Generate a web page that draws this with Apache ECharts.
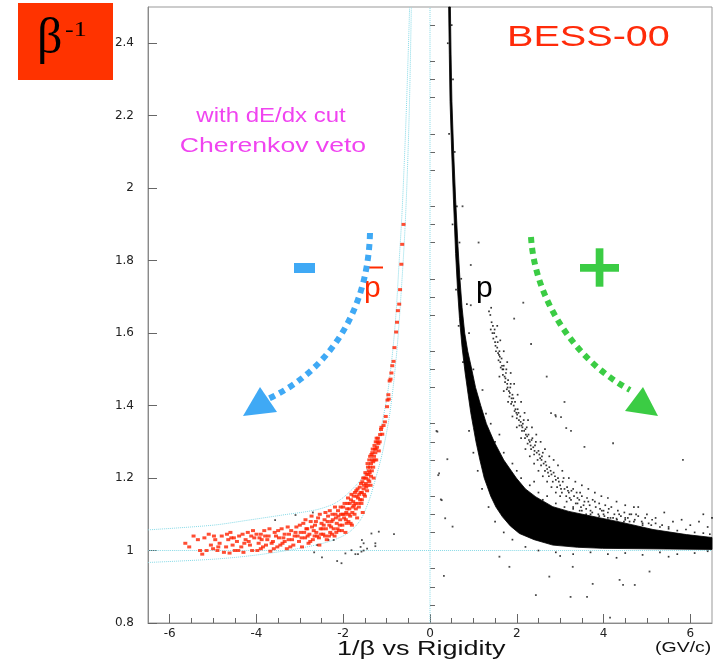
<!DOCTYPE html>
<html>
<head>
<meta charset="utf-8">
<script src="https://cdn.jsdelivr.net/npm/echarts@6/dist/echarts.min.js"></script>
<style>html,body{margin:0;padding:0;background:#fff}#c{width:720px;height:663px}</style>
</head>
<body>
<div id="c"></div>
<script>
// ---- tick labels ----
const xTicks = [-6, -4, -2, 0, 2, 4, 6];
const xMinorTicks = [-5.5, -5, -4.5, -3.5, -3, -2.5, -1.5, -1, -0.5, 0.5, 1, 1.5, 2.5, 3, 3.5, 4.5, 5, 5.5];
const yTicks = [0.8, 1, 1.2, 1.4, 1.6, 1.8, 2, 2.2, 2.4];
const yMinorTicks = [0.85, 0.9, 0.95, 1.05, 1.1, 1.15, 1.25, 1.3, 1.35, 1.45, 1.5, 1.55, 1.65, 1.7, 1.75,
  1.85, 1.9, 1.95, 2.05, 2.1, 2.15, 2.25, 2.3, 2.35, 2.45];

// ---- dense proton band (outer = upper/right edge, inner = lower/left edge) ----
const protonBandOuter = [[0.47,2.5],[0.485,2.37],[0.505,2.24],[0.545,2.1],[0.59,1.97],[0.645,1.84],[0.69,1.75],
  [0.74,1.67],[0.8,1.6],[0.87,1.55],[0.95,1.507],[1.05,1.45],[1.17,1.4],[1.3,1.35],[1.48,1.3],[1.7,1.25],[1.99,1.2],
  [2.2,1.17],[2.44,1.148],[2.83,1.121],[3.2,1.108],[3.6,1.098],[4.37,1.079],[5.14,1.058],[5.91,1.044],[6.5,1.036]];
const protonBandInner = [[0.43,2.5],[0.445,2.37],[0.462,2.24],[0.5,2.1],[0.54,1.97],[0.59,1.82],[0.635,1.72],
  [0.68,1.64],[0.74,1.56],[0.81,1.49],[0.88,1.43],[0.94,1.38],[1.0,1.34],[1.06,1.3],[1.15,1.25],[1.25,1.2],[1.4,1.15],
  [1.52,1.12],[1.67,1.093],[1.85,1.068],[2.06,1.047],[2.4,1.03],[2.83,1.015],[3.4,1.009],[3.98,1.006],[6.5,1.003]];

// ---- scattered black points around the proton band ----
const protonFuzz = [[2.6,1.14],[2.9,1.13],[3.1,1.12],[3.3,1.115],[3.5,1.11],[3.7,1.1],[3.9,1.095],[4.1,1.09],[4.3,1.088],
  [4.5,1.085],[4.7,1.08],[4.9,1.075],[5.1,1.07],[5.3,1.065],[5.5,1.06],[5.7,1.055],[5.9,1.058],[6.1,1.05],[6.3,1.048],
  [6.45,1.045],[4.0,1.11],[4.6,1.1],[5.2,1.09],[5.6,1.08],[6.0,1.07],[6.4,1.065],[3.4,1.13],[5.0,1.1],[5.8,1.085],
  [6.2,1.08],[4.8,1.12],[5.4,1.105],[6.3,1.1],[6.5,1.09],[2.5,1.0],[2.9,0.995],[3.3,0.99],[3.7,0.995],[4.1,0.99],
  [4.5,0.993],[4.9,0.988],[5.3,0.995],[5.7,0.99],[6.1,0.993],[6.4,0.998],[3.0,0.985],[4.3,0.98],[5.5,0.983],[2.2,1.01],
  [1.9,1.03],[1.7,1.05],[1.5,1.08],[1.35,1.12],[1.2,1.17],[1.1,1.22],[1.0,1.27],[0.9,1.33],[1.3,1.33],[1.5,1.3],
  [1.7,1.27],[1.9,1.24],[2.1,1.2],[2.3,1.18],[2.5,1.16],[1.1,1.42],[1.0,1.5],[0.9,1.6],[0.85,1.68],[1.6,1.32],
  [2.0,1.22],[2.4,1.19],[2.7,1.15],[1.4,1.35],[0.72,1.75],[0.68,1.85],[0.62,1.95],[0.57,2.1],[0.53,2.3],[0.5,2.45],
  [0.41,2.4],[0.44,2.15],[0.52,1.9],[0.6,1.72],[0.66,1.62],[0.76,1.52]];

// ---- secondary (deuteron) band ----
const deuteronPts = [[1.36,1.66],[1.39,1.65],[1.42,1.63],[1.4,1.61],[1.45,1.62],[1.48,1.6],[1.46,1.585],[1.5,1.575],
  [1.53,1.59],[1.55,1.56],[1.52,1.55],[1.57,1.545],[1.6,1.55],[1.58,1.525],[1.62,1.52],[1.65,1.53],[1.63,1.505],
  [1.67,1.5],[1.7,1.51],[1.68,1.485],[1.72,1.48],[1.75,1.49],[1.73,1.465],[1.78,1.46],[1.8,1.47],[1.77,1.445],
  [1.82,1.44],[1.85,1.45],[1.83,1.425],[1.88,1.42],[1.9,1.43],[1.87,1.405],[1.93,1.4],[1.96,1.41],[1.95,1.385],
  [1.99,1.38],[2.02,1.39],[2.0,1.365],[2.05,1.36],[2.08,1.37],[2.06,1.345],[2.11,1.345],[2.14,1.35],[2.12,1.33],
  [2.17,1.33],[2.2,1.335],[2.19,1.31],[2.24,1.315],[2.27,1.32],[2.25,1.295],[2.3,1.3],[2.34,1.305],[2.33,1.28],
  [2.38,1.285],[2.42,1.29],[2.4,1.265],[2.46,1.27],[2.5,1.275],[2.48,1.25],[2.54,1.255],[2.58,1.26],[2.56,1.235],
  [2.62,1.24],[2.66,1.245],[2.65,1.22],[2.7,1.225],[2.75,1.23],[2.74,1.205],[2.8,1.21],[2.85,1.215],[2.83,1.19],
  [2.9,1.195],[2.95,1.2],[2.93,1.175],[3.0,1.18],[3.06,1.19],[3.04,1.16],[3.1,1.17],[3.16,1.175],[3.14,1.15],
  [3.2,1.16],[3.26,1.165],[3.25,1.14],[3.32,1.15],[3.38,1.16],[3.36,1.13],[3.44,1.14],[3.5,1.15],[3.48,1.12],
  [3.56,1.135],[3.62,1.145],[3.6,1.115],[3.68,1.125],[3.75,1.14],[3.74,1.105],[3.82,1.12],[3.9,1.13],[3.88,1.1],
  [3.96,1.11],[4.04,1.125],[4.02,1.095],[4.1,1.105],[4.18,1.12],[4.16,1.09],[4.25,1.1],[4.33,1.11],[4.31,1.085],
  [4.4,1.095],[4.48,1.105],[4.47,1.08],[4.56,1.09],[4.64,1.1],[4.72,1.085],[4.8,1.095],[4.88,1.08],[4.96,1.09],
  [5.04,1.075],[5.12,1.085],[1.41,1.67],[1.44,1.6],[1.49,1.61],[1.51,1.565],[1.56,1.575],[1.59,1.54],[1.61,1.535],
  [1.66,1.51],[1.69,1.5],[1.74,1.475],[1.76,1.5],[1.79,1.45],[1.84,1.435],[1.86,1.46],[1.89,1.41],[1.92,1.42],
  [1.97,1.39],[2.01,1.375],[2.04,1.38],[2.09,1.355],[2.13,1.34],[2.16,1.36],[2.21,1.32],[2.23,1.34],[2.28,1.305],
  [2.32,1.29],[2.36,1.31],[2.41,1.275],[2.44,1.3],[2.52,1.265],[2.57,1.25],[2.6,1.27],[2.68,1.235],[2.72,1.215],
  [2.78,1.22],[2.88,1.205],[2.97,1.19],[3.02,1.17],[3.08,1.2],[3.18,1.165],[3.22,1.145],[3.3,1.17],[3.4,1.145],
  [3.46,1.16],[3.54,1.125],[3.65,1.135],[3.7,1.11],[3.8,1.135],[3.92,1.115],[4.0,1.1],[4.12,1.115],[4.22,1.09],
  [4.36,1.1],[4.5,1.09],[4.6,1.08],[4.75,1.1],[4.9,1.07],[5.2,1.075],[5.35,1.07],[5.5,1.065],
  [1.55,1.62],[1.62,1.58],[1.7,1.55],[1.78,1.52],[1.86,1.49],[1.94,1.46],[2.02,1.43],[2.1,1.41],[2.18,1.38],
  [2.26,1.36],[2.35,1.34],[2.45,1.32],[2.55,1.3],[2.65,1.28],[2.75,1.26],[2.85,1.25],[2.95,1.235],[3.05,1.22],
  [3.2,1.2],[3.35,1.19],[3.5,1.18],[3.65,1.17],[3.8,1.16],[3.95,1.15],[4.1,1.145],[4.3,1.135],[4.5,1.125],[4.7,1.12],
  [1.6,1.48],[1.7,1.44],[1.8,1.41],[1.9,1.37],[2.0,1.34],[2.1,1.31],[2.2,1.28],[2.3,1.26],[2.4,1.24],[2.5,1.22],
  [2.6,1.205],[2.7,1.19],[2.8,1.175],[2.9,1.16],[3.0,1.15],[3.15,1.135],[3.3,1.12],[3.45,1.11],[3.6,1.1],[3.75,1.09],
  [3.9,1.085],[4.05,1.08]];

// ---- isolated black events ----
const blackOutliers = [[0.94,1.788],[0.94,1.677],[2.15,1.684],[1.94,1.64],[2.33,1.57],[2.69,1.48],[3.1,1.41],
  [1.21,1.443],[2.89,1.374],[1.29,1.378],[2.79,1.379],[2.9,1.37],[3.02,1.368],[3.14,1.338],[3.25,1.33],[3.56,1.286],
  [4.22,1.296],[5.83,1.25],[0.17,1.328],[0.21,1.213],[0.27,1.139],[0.35,1.089],[0.52,1.066],[0.32,0.93],[2.44,0.877],
  [3.75,0.908],[4.37,0.919],[4.72,0.905],[5.06,0.942],[1.83,0.955],[1.6,0.983],[2.75,0.928],[3.29,0.955],[3.24,0.872],
  [3.62,0.872],[4.15,0.815],[4.45,0.905],[0.4,1.252],[0.19,1.208],[0.25,1.141],[0.15,1.33],[0.75,1.95],[1.12,1.85],
  [-3.57,1.084],[-3.1,1.098],[-2.7,1.105],[-2.67,0.995],[-2.6,1.015],[-2.49,0.981],[-2.34,1.029],[-2.22,1.029],
  [-2.14,0.971],[-2.04,0.965],[-1.95,0.992],[-1.81,1.001],[-1.72,0.99],[-1.66,0.99],[-1.6,1.01],[-1.58,0.997],
  [-1.57,1.029],[-1.53,1.02],[-1.35,1.047],[-1.26,1.02],[-1.26,1.012],[-1.18,1.052],[-0.83,1.045],[-1.53,1.0],
  [-1.45,1.005]];

// ---- antiproton candidates (red) ----
const antiprotonPts = [[-5.64,1.02],[-5.35,1.03],[-5.2,1.035],[-5.1,1.045],[-5.3,1.0],[-5.25,0.99],[-5.05,1.015],
  [-4.95,1.03],[-5.0,1.005],[-4.85,1.02],[-4.8,1.04],[-4.75,0.995],[-4.7,1.01],[-4.65,1.03],[-4.6,1.05],[-4.55,1.015],
  [-4.5,1.0],[-4.45,1.025],[-4.4,1.04],[-4.35,1.01],[-4.3,0.995],[-4.25,1.03],[-4.2,1.05],[-4.15,1.015],[-4.1,1.0],
  [-4.05,1.035],[-4.0,1.045],[-3.95,1.02],[-3.9,1.005],[-3.88,1.03],[-3.82,1.055],[-3.78,1.015],[-3.72,1.04],
  [-3.68,0.998],[-3.62,1.025],[-3.58,1.05],[-3.52,1.01],[-3.48,1.035],[-3.42,1.06],[-3.4,1.02],[-3.35,1.045],
  [-3.3,1.005],[-3.26,1.03],[-3.2,1.055],[-3.15,1.015],[-3.12,1.04],[-3.08,1.065],[-3.02,1.025],[-2.98,1.05],
  [-2.95,1.01],[-2.92,1.075],[-2.88,1.035],[-2.85,1.06],[-2.8,1.02],[-2.78,1.045],[-2.75,1.08],[-2.7,1.03],
  [-2.68,1.055],[-2.65,1.07],[-2.6,1.04],[-2.58,1.09],[-2.55,1.015],[-2.52,1.06],[-2.5,1.075],[-2.46,1.045],
  [-2.43,1.085],[-2.4,1.06],[-2.38,1.03],[-2.35,1.095],[-2.32,1.07],[-2.3,1.05],[-2.27,1.08],[-2.25,1.1],[-2.22,1.06],
  [-2.2,1.04],[-2.17,1.09],[-2.15,1.075],[-2.12,1.11],[-2.1,1.055],[-2.07,1.085],[-2.05,1.1],[-2.02,1.07],[-2.0,1.12],
  [-1.98,1.09],[-1.95,1.05],[-1.93,1.105],[-1.9,1.13],[-1.88,1.08],[-1.86,1.115],[-1.84,1.095],[-1.82,1.14],
  [-1.8,1.07],[-1.78,1.12],[-1.76,1.15],[-1.74,1.1],[-1.72,1.13],[-1.7,1.165],[-1.68,1.09],[-1.66,1.145],
  [-1.64,1.12],[-1.62,1.175],[-1.6,1.16],[-1.58,1.13],[-1.56,1.19],[-1.55,1.105],[-1.53,1.17],[-1.51,1.2],
  [-1.5,1.15],[-1.48,1.185],[-1.46,1.21],[-1.45,1.165],[-1.43,1.23],[-1.42,1.195],[-1.4,1.25],[-1.39,1.215],
  [-1.37,1.18],[-1.36,1.24],[-1.35,1.265],[-1.34,1.22],[-1.32,1.28],[-1.31,1.245],[-1.3,1.2],[-1.29,1.26],
  [-1.28,1.29],[-1.26,1.27],[-1.25,1.3],[-1.24,1.25],[-1.22,1.285],[-1.2,1.31],[-1.18,1.275],[-1.15,1.32],
  [-1.13,1.334],[-1.1,1.321],[-1.04,1.355],[-0.99,1.397],[-0.98,1.415],[-0.95,1.418],[-0.93,1.468],[-0.91,1.473],
  [-0.87,1.51],[-0.84,1.522],[-0.78,1.603],[-0.74,1.662],[-0.71,1.68],[-0.69,1.72],[-0.66,1.79],[-0.64,1.845],
  [-0.61,1.9],[-3.9,1.045],[-3.75,1.03],[-3.55,1.04],[-3.45,1.015],[-3.25,1.045],[-3.05,1.04],[-2.9,1.05],
  [-2.72,1.065],[-2.62,1.05],[-2.48,1.06],[-2.36,1.08],[-2.28,1.065],[-2.18,1.1],[-2.08,1.07],[-1.96,1.1],
  [-1.87,1.1],[-1.77,1.135],[-1.69,1.15],[-1.61,1.14],[-1.57,1.16],[-1.52,1.18],[-1.47,1.2],[-1.44,1.18],
  [-1.41,1.22],[-1.38,1.23],[-1.33,1.25],[-1.27,1.28],[-1.21,1.3],[-4.9,1.0],[-4.58,1.035],[-4.28,1.02],
  [-4.12,1.04],[-3.98,1.0],[-3.65,1.02],[-3.35,1.025],[-3.18,1.03],[-2.82,1.04],[-2.56,1.035],[-2.42,1.04],
  [-2.13,1.06],[-1.92,1.075],[-5.55,1.01],[-4.62,0.993],
  [-5.45,1.04],[-5.15,1.0],[-4.98,1.04],[-4.88,1.01],[-4.68,1.045],[-4.52,1.035],[-4.42,1.0],[-4.32,1.045],
  [-4.18,1.025],[-4.08,1.055],[-3.93,1.035],[-3.85,1.01],[-3.8,1.04],[-3.7,1.06],[-3.6,1.005],[-3.5,1.055],
  [-3.38,1.035],[-3.28,1.065],[-3.22,1.01],[-3.1,1.05],[-3.0,1.07],[-2.96,1.035],[-2.87,1.085],[-2.83,1.06],
  [-2.76,1.025],[-2.73,1.095],[-2.66,1.04],[-2.63,1.08],[-2.54,1.1],[-2.51,1.045],[-2.45,1.07],[-2.41,1.105],
  [-2.33,1.04],[-2.31,1.11],[-2.26,1.045],[-2.24,1.085],[-2.19,1.12],[-2.16,1.05],[-2.11,1.095],[-2.06,1.12],
  [-2.03,1.055],[-2.01,1.1],[-1.97,1.13],[-1.94,1.085],[-1.91,1.115],[-1.89,1.145],[-1.85,1.13],[-1.83,1.075],
  [-1.81,1.155],[-1.79,1.105],[-1.75,1.125],[-1.73,1.16],[-1.71,1.115],[-1.67,1.17],[-1.65,1.13],[-1.63,1.155],
  [-1.59,1.185],[-1.57,1.14],[-1.54,1.2],[-1.52,1.155],[-1.49,1.215],[-1.47,1.175],[-1.44,1.24],[-1.42,1.21],
  [-1.4,1.19],[-1.38,1.26],[-1.36,1.205],[-1.33,1.27],[-1.31,1.23],[-1.28,1.25],[-1.25,1.28],[-1.23,1.31],
  [-1.19,1.295],[-1.16,1.3],[-1.12,1.34],[-1.07,1.345],[-1.02,1.37],[-0.96,1.43],[-0.89,1.49],[-0.82,1.56],
  [-0.76,1.63]];

// ---- selection curves & reference lines (cyan) ----
const cutUpper = [[-6.5,1.057],[-5.0,1.07],[-4.18,1.084],[-3.4,1.098],[-2.64,1.112],[-2.2,1.13],[-1.87,1.16],
  [-1.57,1.2],[-1.35,1.25],[-1.2,1.3],[-1.09,1.36],[-0.97,1.44],[-0.86,1.55],[-0.78,1.66],[-0.71,1.8],[-0.65,1.92],
  [-0.6,2.05],[-0.55,2.2],[-0.5,2.38],[-0.47,2.5]];
const cutLower = [[-6.5,0.967],[-5.0,0.976],[-4.18,0.985],[-3.4,0.998],[-2.64,1.015],[-2.2,1.03],[-1.87,1.05],
  [-1.6,1.085],[-1.4,1.14],[-1.25,1.2],[-1.1,1.268],[-0.95,1.36],[-0.85,1.45],[-0.75,1.57],[-0.66,1.72],[-0.58,1.88],
  [-0.52,2.05],[-0.47,2.25],[-0.43,2.5]];
const refHorizontal = [[-6.5,1],[6.5,1]];
const refVertical = [[0,0.8],[0,2.5]];

const chart = echarts.init(document.getElementById('c'), null, {renderer: 'canvas'});
const cyan = '#86d9e6';
const tickFont = {fontFamily: 'DejaVu Sans', fontSize: 12, color: '#222'};
const axisGray = '#8a8a8a';

function cyanLine(data) {
  return {type: 'line', data: data, showSymbol: false, smooth: 0.3, silent: true, z: 1,
    lineStyle: {color: cyan, width: 1, type: 'dotted'}};
}

const option = {
  animation: false,
  grid: {left: 148, right: 8, top: 7, bottom: 40, show: true, borderColor: '#999', borderWidth: 1, backgroundColor: 'transparent'},
  xAxis: [
    {type: 'value', min: -6.5, max: 6.5, position: 'bottom',
      axisLine: {show: true, onZero: false, lineStyle: {color: axisGray}},
      axisTick: {show: true, inside: true, length: 9, customValues: xTicks, lineStyle: {color: '#666'}},
      axisLabel: Object.assign({customValues: xTicks, margin: 5}, tickFont),
      splitLine: {show: false}},
    {type: 'value', min: -6.5, max: 6.5, position: 'bottom',
      axisLine: {show: false},
      axisTick: {show: true, inside: true, length: 5, customValues: xMinorTicks, lineStyle: {color: '#666'}},
      axisLabel: {show: false}, splitLine: {show: false}}
  ],
  yAxis: [
    {type: 'value', min: 0.8, max: 2.5, position: 'left',
      axisLine: {show: true, onZero: false, lineStyle: {color: axisGray}},
      axisTick: {show: true, inside: true, length: 9, customValues: yTicks, lineStyle: {color: '#666'}},
      axisLabel: Object.assign({customValues: yTicks, margin: 14}, tickFont),
      splitLine: {show: false}},
    {type: 'value', min: 0.8, max: 2.5, position: 'left',
      axisLine: {show: false},
      axisTick: {show: true, inside: true, length: 5, customValues: yMinorTicks, lineStyle: {color: '#666'}},
      axisLabel: {show: false}, splitLine: {show: false}}
  ],
  series: [
    cyanLine(refHorizontal),
    cyanLine(refVertical),
    cyanLine(cutUpper),
    cyanLine(cutLower),
    {type: 'custom', z: 2, silent: true, data: [[0, 1]],
      renderItem: function (params, api) {
        const pts = protonBandOuter.concat(protonBandInner.slice().reverse()).map(function (p) { return api.coord(p); });
        return {type: 'polygon', shape: {points: pts}, style: {fill: '#000', stroke: '#000', lineWidth: 0.8}};
      }},
    {type: 'scatter', z: 3, silent: true, data: protonFuzz, symbol: 'rect', symbolSize: 1.7, itemStyle: {color: '#000'}},
    {type: 'scatter', z: 3, silent: true, data: deuteronPts, symbol: 'rect', symbolSize: 1.7, itemStyle: {color: '#000'}},
    {type: 'scatter', z: 3, silent: true, data: blackOutliers, symbol: 'rect', symbolSize: 1.8, itemStyle: {color: '#222'}},
    {type: 'scatter', z: 4, silent: true, data: antiprotonPts, symbol: 'rect', symbolSize: [4, 3], itemStyle: {color: '#ff2200'}}
  ],
  graphic: [
    {type: 'rect', shape: {x: 18, y: 3, width: 95, height: 77}, style: {fill: '#ff3300'}, z: 10},
    {type: 'text', x: 37, y: 40, z: 11, style: {text: 'β', font: '50px "Liberation Serif"', fill: '#000', verticalAlign: 'middle'}},
    {type: 'text', x: 65, y: 31, z: 11, scaleX: 1.3, style: {text: '-1', font: '20px "Liberation Serif"', fill: '#000', verticalAlign: 'middle'}},
    {type: 'text', x: 507, y: 38, z: 11, scaleX: 1.32, style: {text: 'BESS-00', font: '30px "Liberation Sans"', fill: '#ff2b0a', verticalAlign: 'middle'}},
    {type: 'text', x: 271, y: 116, z: 11, scaleX: 1.2, style: {text: 'with dE/dx cut', font: '20px "Liberation Sans"', fill: '#f044f0', align: 'center', verticalAlign: 'middle'}},
    {type: 'text', x: 273, y: 146, z: 11, scaleX: 1.33, style: {text: 'Cherenkov veto', font: '20px "Liberation Sans"', fill: '#f044f0', align: 'center', verticalAlign: 'middle'}},
    {type: 'rect', shape: {x: 294, y: 263, width: 21, height: 10}, style: {fill: '#3fa9f5'}, z: 11},
    {type: 'text', x: 364, y: 289, z: 11, style: {text: 'p', font: '30px "Liberation Sans"', fill: '#ff2a00', verticalAlign: 'middle'}},
    {type: 'rect', shape: {x: 368, y: 266.5, width: 15, height: 2}, style: {fill: '#ff2a00'}, z: 11},
    {type: 'text', x: 476, y: 289, z: 11, style: {text: 'p', font: '30px "Liberation Sans"', fill: '#000', verticalAlign: 'middle'}},
    {type: 'rect', shape: {x: 595.7, y: 248.3, width: 7.7, height: 38.4}, style: {fill: '#3bcc44'}, z: 11},
    {type: 'rect', shape: {x: 580, y: 264, width: 39, height: 7.7}, style: {fill: '#3bcc44'}, z: 11},
    {type: 'bezierCurve', z: 11, shape: {x1: 370, y1: 233, cpx1: 368, cpy1: 310, cpx2: 330, cpy2: 370, x2: 268, y2: 399},
      style: {stroke: '#3fa9f5', lineWidth: 6, lineDash: [6, 5], fill: null}},
    {type: 'polygon', z: 11, shape: {points: [[243, 416], [260, 387], [277, 412]]}, style: {fill: '#3fa9f5'}},
    {type: 'bezierCurve', z: 11, shape: {x1: 531, y1: 237, cpx1: 535, cpy1: 300, cpx2: 575, cpy2: 360, x2: 630, y2: 390},
      style: {stroke: '#3bcc44', lineWidth: 6, lineDash: [6, 5], fill: null}},
    {type: 'polygon', z: 11, shape: {points: [[625, 411], [643, 387], [658, 416]]}, style: {fill: '#3bcc44'}},
    {type: 'text', x: 337, y: 649, z: 11, scaleX: 1.35, style: {text: '1/β vs Rigidity', font: '20px "Liberation Sans"', fill: '#111', verticalAlign: 'middle'}},
    {type: 'text', x: 655, y: 648, z: 11, scaleX: 1.3, style: {text: '(GV/c)', font: '15px "Liberation Sans"', fill: '#111', verticalAlign: 'middle'}}
  ]
};
chart.setOption(option);
</script>
</body>
</html>
